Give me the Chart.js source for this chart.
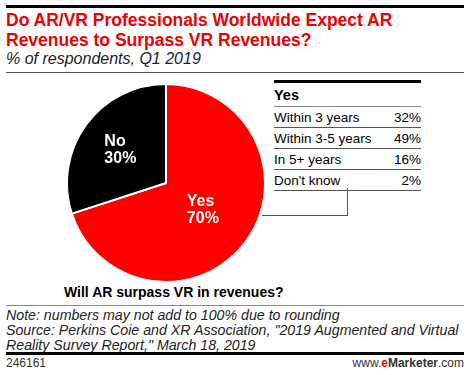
<!DOCTYPE html>
<html>
<head>
<meta charset="utf-8">
<script src="https://cdn.jsdelivr.net/npm/chart.js@4"></script>
<style>
  body { margin: 0; width: 470px; height: 375px; background: #fff; position: relative; overflow: hidden; font-family: "Liberation Sans", Arial, sans-serif; color: #000; }
  .abs { position: absolute; }
  .rule { position: absolute; left: 6px; width: 458px; }
  #title { left: 6px; top: 10px; font: bold 17.5px "Liberation Sans", Arial, sans-serif; color: #e00; line-height: 20px; }
  #sub { left: 6px; top: 50px; font: italic 16px "Liberation Sans", Arial, sans-serif; color: #222; }
  #wrap { left: 66px; top: 83px; width: 200px; height: 200px; }
  table { position: absolute; left: 274px; top: 80px; width: 147px; border-collapse: collapse; font-size: 13.5px; border-top: 3px solid #000; }
  td { padding: 0; height: 20px; border-bottom: 1px solid #555; line-height: 19px; }
  td.v { text-align: right; }
  th { text-align: left; font: bold 14.5px "Liberation Sans", Arial, sans-serif; height: 23px; border-bottom: 1px solid #888; padding: 0; }
  #q { left: 64px; top: 284px; font: bold 14px "Liberation Sans", Arial, sans-serif; }
  #notes { left: 6px; top: 308px; font: italic 14.2px "Liberation Sans", Arial, sans-serif; line-height: 15px; color: #222; }
  #id { left: 6px; top: 356px; font-size: 12px; color: #333; }
  #brand { right: 6px; top: 356px; font-size: 12px; color: #333; }
</style>
</head>
<body>
<div class="rule" style="top:5px;height:3px;background:#000"></div>
<div id="title" class="abs">Do AR/VR Professionals Worldwide Expect AR<br>Revenues to Surpass VR Revenues?</div>
<div id="sub" class="abs">% of respondents, Q1 2019</div>
<div class="rule" style="top:72px;height:1px;background:#555"></div>

<div id="wrap" class="abs"><canvas id="pie"></canvas></div>

<table id="tbl"></table>
<div class="abs" style="left:347px;top:188px;width:1px;height:27px;background:#555"></div>
<div class="abs" style="left:262px;top:215px;width:86px;height:1px;background:#555"></div>

<div id="q" class="abs">Will AR surpass VR in revenues?</div>
<div class="rule" style="top:305px;height:1px;background:#888"></div>
<div id="notes" class="abs">Note: numbers may not add to 100% due to rounding<br>Source: Perkins Coie and XR Association, "2019 Augmented and Virtual<br>Reality Survey Report," March 18, 2019</div>
<div class="rule" style="top:352px;height:3px;background:#000"></div>
<div id="id" class="abs">246161</div>
<div id="brand" class="abs">www.<b style="color:#e00">e</b><b>Marketer</b>.com</div>

<script>
const sliceLabels = ['Yes', 'No'];
const sliceValues = [70, 30];
const sliceColors = ['#ff0000', '#000000'];

const yesLabels = ['Within 3 years', 'Within 3-5 years', 'In 5+ years', "Don't know"];
const yesValues = [32, 49, 16, 2];

const tbl = document.getElementById('tbl');
let html = '<tr><th colspan="2">Yes</th></tr>';
yesLabels.forEach((l, i) => {
    html += `<tr><td>${l}</td><td class="v">${yesValues[i]}%</td></tr>`;
});
tbl.innerHTML = html;

const sliceText = {
    id: 'sliceText',
    afterDatasetsDraw(chart) {
        const ctx = chart.ctx;
        const meta = chart.getDatasetMeta(0);
        ctx.save();
        ctx.fillStyle = '#fff';
        ctx.font = 'bold 16px "Liberation Sans", Arial, sans-serif';
        ctx.textBaseline = 'middle';
        ctx.textAlign = 'left';
        const dist = [0.46, 0.57];
        meta.data.forEach((arc, i) => {
            const p = arc.getProps(['x', 'y', 'startAngle', 'endAngle', 'outerRadius']);
            const mid = (p.startAngle + p.endAngle) / 2;
            const cx = p.x + Math.cos(mid) * p.outerRadius * dist[i];
            const cy = p.y + Math.sin(mid) * p.outerRadius * dist[i];
            const l1 = sliceLabels[i];
            const l2 = sliceValues[i] + '%';
            const w = Math.max(ctx.measureText(l1).width, ctx.measureText(l2).width);
            ctx.fillText(l1, cx - w / 2, cy - 8);
            ctx.fillText(l2, cx - w / 2, cy + 9);
        });
        ctx.restore();
    }
};

new Chart(document.getElementById('pie'), {
    type: 'pie',
    data: {
        labels: sliceLabels,
        datasets: [{
            data: sliceValues,
            backgroundColor: sliceColors,
            borderColor: '#fff',
            borderWidth: 2
        }]
    },
    options: {
        responsive: true,
        maintainAspectRatio: false,
        animation: false,
        plugins: {
            legend: { display: false },
            tooltip: { enabled: false }
        }
    },
    plugins: [sliceText]
});
</script>
</body>
</html>
